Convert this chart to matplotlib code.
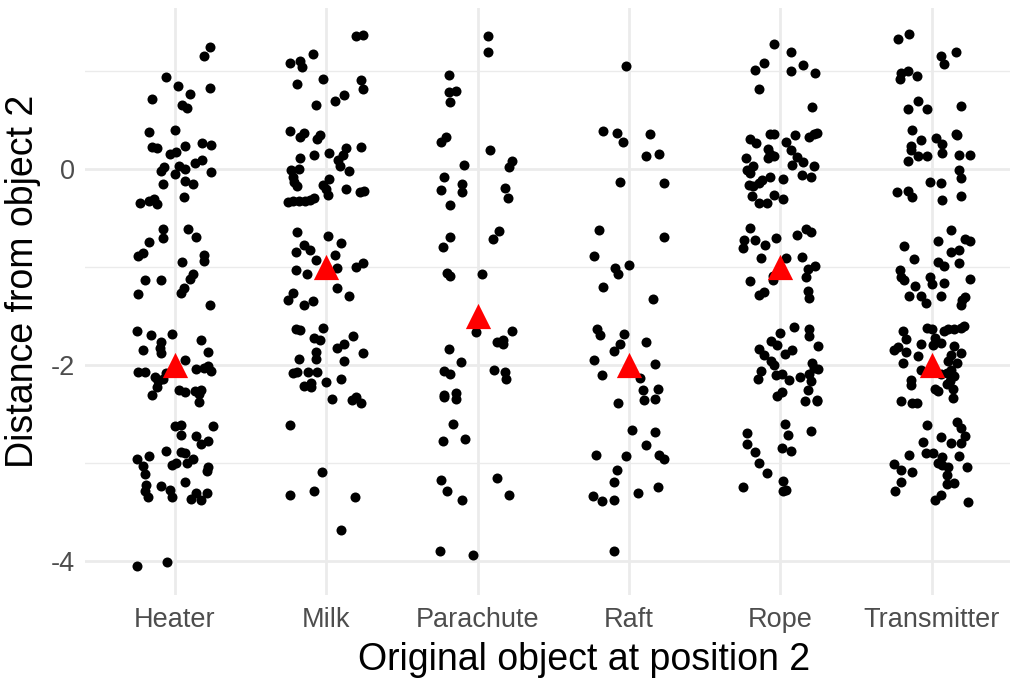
import numpy as np
import matplotlib.pyplot as plt

# --- data: (horizontal jitter, distance) per original object ---
objects = ["Heater", "Milk", "Parachute", "Raft", "Rope", "Transmitter"]

heater = np.array([
    (.23, 1.24), (.19, 1.15), (-.06, .94), (.02, .85), (.23, .82), (.10, .76), (-.15, .71),
    (.05, .65), (.08, .62), (-.17, .38), (0, .40), (-.15, .22), (-.12, .21), (.07, .23),
    (.18, .26), (.24, .24), (-.03, .15), (.01, .17), (.13, .06), (.18, .09), (-.07, .02),
    (-.09, -.02), (.03, .03), (.07, 0), (0, -.05), (.24, -.03), (.07, -.12), (.12, -.16),
    (-.08, -.16), (.06, -.29), (-.23, -.35), (-.17, -.33), (-.14, -.31), (-.12, -.36),
    (-.08, -.62), (-.08, -.71), (.09, -.62), (.14, -.70), (-.17, -.75), (-.24, -.89),
    (-.21, -.86), (.19, -.88), (.19, -.94), (.05, -.95), (.12, -1.07), (.10, -1.13),
    (-.20, -1.14), (-.09, -1.14), (-.24, -1.28), (.06, -1.22), (.04, -1.27), (.23, -1.39),
    (-.25, -1.66), (-.16, -1.70), (-.02, -1.69), (-.09, -1.77), (.17, -1.75), (-.21, -1.85),
    (-.10, -1.83), (-.09, -1.88), (.22, -1.87), (.07, -1.95), (-.24, -2.07), (-.20, -2.08),
    (-.13, -2.13), (-.06, -2.09), (-.11, -2.17), (-.08, -2.15), (-.12, -2.23), (-.15, -2.31),
    (.03, -2.26), (.07, -2.28), (.14, -2.04), (.19, -2.03), (.24, -2.06), (.22, -2.01),
    (.13, -2.27), (.17, -2.26), (.16, -2.30), (.16, -2.38), (0, -2.63), (.04, -2.62),
    (.04, -2.72), (.14, -2.73), (.17, -2.81), (.22, -2.78), (.25, -2.63), (-.06, -2.88),
    (.04, -2.89), (.07, -2.90), (-.25, -2.96), (-.17, -2.93), (-.21, -3.03), (-.02, -3.02),
    (.01, -3.00), (.08, -3.00), (.12, -2.96), (.22, -3.04), (.21, -3.09), (-.20, -3.12),
    (-.19, -3.23), (-.20, -3.29), (-.18, -3.35), (-.09, -3.24), (-.03, -3.28), (-.02, -3.35),
    (.07, -3.20), (.11, -3.37), (.14, -3.31), (.17, -3.38), (.21, -3.31), (-.25, -4.06),
    (-.05, -4.01),
])

milk = np.array([
    (.20, 1.36), (.24, 1.37), (-.09, 1.17), (-.24, 1.08), (-.17, 1.10), (-.16, 1.04),
    (-.19, .87), (-.02, .92), (.23, .91), (.24, .81), (-.07, .65), (.06, .69), (.12, .75),
    (-.24, .39), (-.15, .37), (-.17, .32), (-.04, .34), (-.06, .30), (.23, .22), (.13, .21),
    (.02, .16), (-.08, .14), (-.17, .11), (.11, .14), (.08, .09), (.09, .03), (.15, -.02),
    (-.23, -.01), (-.18, 0), (-.22, -.08), (-.21, -.13), (-.19, -.18), (.02, -.10),
    (-.02, -.17), (0, -.21), (.01, -.27), (.13, -.21), (.22, -.24), (.25, -.23), (-.25, -.34),
    (-.22, -.33), (-.18, -.33), (-.14, -.33), (-.11, -.32), (-.08, -.30), (-.19, -.65),
    (.01, -.69), (.10, -.76), (-.15, -.78), (-.11, -.83), (-.20, -.85), (-.07, -.93),
    (.06, -.88), (.20, -1.00), (.24, -.96), (-.20, -1.03), (-.13, -1.07), (.07, -1.01),
    (.07, -1.22), (.15, -1.30), (-.22, -1.27), (-.25, -1.34), (-.15, -1.39), (-.09, -1.35),
    (-.20, -1.64), (-.17, -1.65), (-.02, -1.63), (-.08, -1.73), (-.04, -1.75), (.18, -1.71),
    (.07, -1.83), (.12, -1.79), (-.07, -1.87), (-.07, -1.94), (-.18, -1.94), (.24, -1.88),
    (.12, -1.96), (-.22, -2.09), (-.19, -2.08), (-.12, -2.08), (-.06, -2.07), (-.15, -2.22),
    (-.10, -2.23), (-.10, -2.19), (0, -2.18), (.10, -2.15), (.04, -2.35), (.17, -2.36),
    (.20, -2.33), (.23, -2.39), (-.24, -2.62), (-.03, -3.10), (-.24, -3.33), (-.08, -3.29),
    (.19, -3.35), (.10, -3.69),
])

parachute = np.array([
    (.07, 1.36), (.07, 1.19), (-.19, .96), (-.19, .78), (-.14, .79), (-.18, .68), (-.21, .32),
    (-.24, .27), (.08, .19), (.23, .08), (.21, .02), (-.09, .04), (-.22, -.08), (-.24, -.22),
    (-.10, -.16), (-.10, -.24), (.18, -.20), (.20, -.30), (-.18, -.37), (-.18, -.70),
    (-.23, -.80), (.14, -.64), (.10, -.72), (-.20, -1.06), (-.18, -1.09), (.03, -1.07),
    (-.01, -1.67), (.23, -1.66), (.13, -1.77), (.17, -1.75), (.17, -1.79), (-.19, -1.84),
    (-.11, -1.97), (-.22, -2.06), (-.18, -2.10), (.11, -2.05), (.18, -2.08), (.19, -2.15),
    (-.22, -2.31), (-.22, -2.33), (-.14, -2.29), (-.14, -2.35), (-.16, -2.61), (-.23, -2.78),
    (-.08, -2.76), (-.24, -3.18), (-.20, -3.29), (-.10, -3.38), (.13, -3.16), (.21, -3.33),
    (-.25, -3.90), (-.03, -3.94),
])

raft = np.array([
    (-.02, 1.05), (-.17, .39), (-.08, .37), (-.04, .27), (.14, .36), (.11, .13), (.20, .15),
    (-.06, -.13), (.23, -.15), (-.20, -.63), (.23, -.70), (-.23, -.89), (0, -.98),
    (-.09, -1.01), (-.07, -1.07), (-.17, -1.21), (.16, -1.33), (-.21, -1.64), (-.19, -1.70),
    (-.03, -1.69), (-.06, -1.79), (-.10, -1.86), (.11, -1.77), (-.23, -1.95), (.17, -1.99),
    (-.18, -2.11), (.07, -2.14), (.09, -2.26), (.19, -2.25), (.10, -2.36), (.17, -2.35),
    (-.07, -2.39), (.02, -2.67), (.17, -2.69), (.11, -2.82), (-.22, -2.92), (-.02, -2.93),
    (.20, -2.92), (.23, -2.96), (-.08, -3.08), (-.10, -3.20), (-.24, -3.34), (-.18, -3.39),
    (-.10, -3.38), (.06, -3.31), (.19, -3.25), (-.10, -3.90),
])

rope = np.array([
    (-.04, 1.27), (.07, 1.19), (-.11, 1.08), (-.17, 1.01), (.07, 1.00), (.15, 1.06),
    (.23, .98), (-.14, .81), (.21, .63), (-.07, .36), (-.04, .36), (-.20, .30), (-.16, .26),
    (.10, .34), (.19, .32), (.24, .37), (.22, .35), (.04, .27), (-.08, .20), (.07, .19),
    (-.07, .15), (-.04, .13), (-.08, .11), (.11, .12), (-.23, .11), (.08, .04), (.15, .07),
    (.22, .03), (-.18, .03), (-.22, -.01), (-.20, -.04), (.14, -.06), (.20, -.08), (.02, -.10),
    (-.07, -.08), (-.12, -.11), (-.21, -.17), (-.18, -.18), (-.14, -.15), (-.19, -.28),
    (-.04, -.27), (.02, -.31), (-.14, -.35), (-.09, -.35), (-.20, -.60), (-.24, -.73),
    (-.25, -.81), (-.17, -.73), (-.10, -.78), (-.03, -.71), (.11, -.68), (.17, -.62),
    (.20, -.65), (-.13, -.91), (.04, -.91), (.14, -.90), (.18, -1.02), (.23, -.99),
    (.17, -1.10), (-.05, -1.09), (-.05, -1.14), (-.20, -1.15), (-.14, -1.29), (-.11, -1.26),
    (.18, -1.25), (.19, -1.32), (.09, -1.62), (.19, -1.64), (.19, -1.71), (0, -1.68),
    (-.06, -1.76), (-.02, -1.80), (.25, -1.81), (-.14, -1.84), (-.11, -1.90), (.08, -1.85),
    (.03, -1.89), (-.06, -1.96), (-.04, -2.00), (.21, -1.98), (.25, -2.04), (.22, -2.03),
    (-.13, -2.06), (-.15, -2.15), (-.03, -2.11), (.01, -2.10), (.06, -2.16), (.13, -2.13),
    (.19, -2.10), (.20, -2.17), (.18, -2.26), (-.02, -2.32), (.01, -2.28), (.16, -2.37),
    (.24, -2.37), (.24, -2.36), (.03, -2.61), (.05, -2.72), (.20, -2.68), (-.22, -2.70),
    (-.22, -2.81), (-.17, -2.89), (.01, -2.85), (.07, -2.88), (-.14, -3.00), (-.09, -3.11),
    (-.25, -3.25), (.02, -3.19), (.02, -3.29), (.04, -3.28),
])

transmitter = np.array([
    (-.15, 1.38), (-.22, 1.32), (.06, 1.15), (.08, 1.07), (.16, 1.19), (-.21, .92),
    (-.20, .98), (-.16, 1.00), (-.10, .95), (-.09, .69), (-.16, .61), (-.03, .61), (.19, .64),
    (-.13, .40), (-.07, .29), (.03, .31), (.07, .25), (.16, .36), (.17, .34), (-.14, .19),
    (-.14, .23), (-.16, .08), (-.09, .13), (-.03, .13), (.07, .16), (.18, .14), (.25, .14),
    (.18, -.01), (.19, -.09), (-.01, -.13), (.06, -.15), (-.23, -.24), (-.16, -.23),
    (-.13, -.29), (.07, -.32), (.19, -.28), (.13, -.63), (.04, -.74), (.22, -.72), (.25, -.74),
    (-.18, -.79), (.13, -.85), (.18, -.83), (-.12, -.92), (.04, -.95), (.08, -.99), (.18, -.96),
    (-.21, -1.03), (-.20, -1.10), (-.18, -1.14), (-.01, -1.10), (0, -1.18), (.08, -1.17),
    (.25, -1.13), (-.11, -1.20), (-.15, -1.30), (-.07, -1.30), (-.04, -1.37), (.06, -1.30),
    (.20, -1.34), (.22, -1.31), (.19, -1.39), (-.19, -1.66), (-.17, -1.74), (-.22, -1.82),
    (-.25, -1.85), (-.17, -1.87), (-.09, -1.91), (-.19, -1.98), (-.07, -1.79), (-.03, -1.63),
    (0, -1.64), (.02, -1.73), (.06, -1.78), (.08, -1.66), (.11, -1.64), (.15, -1.64),
    (.19, -1.63), (.21, -1.61), (.01, -1.80), (.15, -1.81), (.19, -1.88), (.13, -1.90),
    (.11, -1.96), (.17, -1.98), (-.07, -2.05), (.06, -2.10), (.10, -2.09), (.13, -2.05),
    (.15, -2.12), (.12, -2.17), (-.14, -2.16), (-.14, -2.21), (.02, -2.25), (.04, -2.27),
    (.10, -2.20), (.14, -2.25), (.14, -2.34), (-.20, -2.37), (-.13, -2.39), (-.10, -2.39),
    (-.03, -2.62), (.17, -2.59), (.19, -2.65), (.22, -2.73), (.06, -2.74), (.13, -2.80),
    (.19, -2.80), (-.06, -2.79), (-.15, -2.92), (-.04, -2.90), (.01, -2.90), (.07, -2.94),
    (.18, -2.93), (-.25, -3.01), (-.20, -3.08), (-.13, -3.10), (.04, -3.00), (.07, -3.02),
    (.11, -3.04), (.23, -3.05), (.10, -3.13), (-.20, -3.20), (.10, -3.22), (.15, -3.21),
    (-.24, -3.29), (.02, -3.38), (.06, -3.33), (.24, -3.40),
])

# summary value per object (red triangles)
medians = [-2, -1, -1.5, -2, -1, -2]

groups = [heater, milk, parachute, raft, rope, transmitter]

# --- plot ---
plt.rcParams['font.family'] = ['Liberation Sans', 'DejaVu Sans']

fig = plt.figure(figsize=(10.23, 6.79), dpi=100)
ax = fig.add_axes([0.083, 0.124, 0.904, 0.864])

grid_col = "#EBEBEB"
for yv in [1, -1, -3]:
    ax.axhline(yv, color=grid_col, lw=1.0, zorder=0)
for yv in [0, -2, -4]:
    ax.axhline(yv, color=grid_col, lw=2.0, zorder=0)
for i in range(len(objects)):
    ax.axvline(i + 1, color=grid_col, lw=2.0, zorder=0)

for i, pts in enumerate(groups):
    ax.scatter(pts[:, 0] + i + 1, pts[:, 1], s=52, color="black",
               linewidths=0, zorder=2)

ax.scatter(np.arange(1, len(objects) + 1), medians, marker="^", s=330,
           color="red", linewidths=0, zorder=3)

ax.set_xlim(0.406, 6.515)
ax.set_ylim(-4.35, 1.64)
ax.set_xticks(np.arange(1, len(objects) + 1))
ax.set_xticklabels(objects)
ax.set_yticks([0, -2, -4])
ax.set_yticklabels(["0", "-2", "-4"])
ax.tick_params(length=0, labelsize=19.5, labelcolor="#4D4D4D")
ax.tick_params(axis="x", pad=9)
ax.tick_params(axis="y", pad=7)
for s in ax.spines.values():
    s.set_visible(False)

ax.set_xlabel("Original object at position 2", fontsize=27, labelpad=6, x=0.54)
ax.set_ylabel("Distance from object 2", fontsize=27, labelpad=7, y=0.535)

fig.savefig("out.png", dpi=100)
